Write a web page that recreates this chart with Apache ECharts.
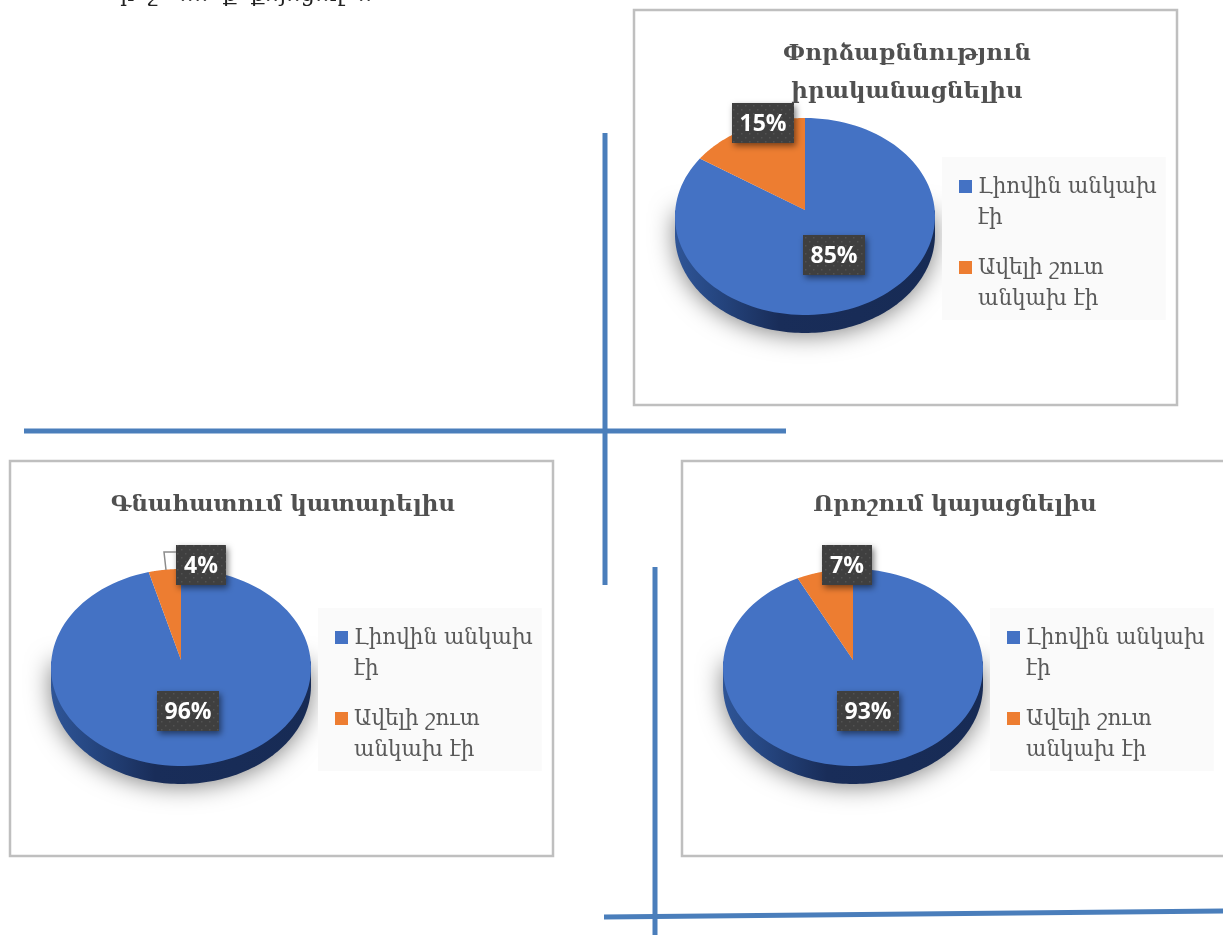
<!DOCTYPE html>
<html><head><meta charset="utf-8">
<style>html,body{margin:0;padding:0;background:#fff}#c{width:1223px;height:935px}</style>
<script src="https://cdn.jsdelivr.net/npm/echarts@6/dist/echarts.min.js"></script>
</head><body><div id="c"></div>
<script>
const chartTitles = ['Փորձաքննություն\nիրականացնելիս', 'Գնահատում կատարելիս', 'Որոշում կայացնելիս'];
const categories = ['Լիովին անկախ էի', 'Ավելի շուտ անկախ էի'];
const legendLabels = ['Լիովին անկախ\nէի', 'Ավելի շուտ\nանկախ էի'];
const fullyIndependent = [85, 96, 93];
const ratherIndependent = [15, 4, 7];

const pies = [
  {cx: 805, top: 118, apexY: 210, labels: [[834, 255], [763, 123]]},
  {cx: 181, top: 569, apexY: 660, labels: [[188, 711], [201, 565]]},
  {cx: 853, top: 569, apexY: 660, labels: [[868, 711], [847, 565]]}
];
const RX = 130, RY = 98.5, DEPTH = 18;
const FONT = '"DejaVu Serif", serif';
const LABEL_FONT = '"Open Sans", sans-serif';

function dots() {
  const c = document.createElement('canvas'); c.width = c.height = 8;
  const g = c.getContext('2d');
  g.fillStyle = '#3f3f3f'; g.fillRect(0, 0, 8, 8);
  g.fillStyle = '#525252'; g.fillRect(1, 1, 1.5, 1.5); g.fillRect(5, 5, 1.5, 1.5);
  return c;
}
const dotImage = dots();

function arcPoints(p, fromFrac, toFrac, dy) {
  const cy = p.top + RY, pts = [], n = 120;
  for (let i = 0; i <= n; i++) {
    const a = (fromFrac + (toFrac - fromFrac) * i / n) * 2 * Math.PI;
    pts.push([p.cx + RX * Math.sin(a), cy - RY * Math.cos(a) + dy]);
  }
  return pts;
}

function makeRender(seriesIndex) {
  return function (params, api) {
    const i = params.dataIndex, p = pies[i], value = api.value(0);
    const total = fullyIndependent[i] + ratherIndependent[i];
    const frac = value / total;
    const from = seriesIndex === 0 ? 0 : 1 - frac;
    const to = seriesIndex === 0 ? frac : 1;
    const children = [];
    if (seriesIndex === 0) {
      const cy = p.top + RY;
      children.push({
        type: 'polygon',
        shape: {points: [[p.cx + RX, cy - 6]].concat(arcPoints(p, 0.25, 0.75, DEPTH), [[p.cx - RX, cy - 6]])},
        style: {
          fill: new echarts.graphic.LinearGradient(1, 0, 0, 0, [
            {offset: 0, color: '#172b55'}, {offset: 0.6, color: '#192d59'},
            {offset: 0.85, color: '#264782'}, {offset: 1, color: '#2f5597'}
          ]),
          shadowBlur: 24, shadowColor: 'rgba(0,0,0,0.5)', shadowOffsetY: 2
        }
      });
    }
    children.push({
      type: 'polygon',
      shape: {points: arcPoints(p, from, to, 0).concat([[p.cx, p.apexY]])},
      style: {fill: api.visual('color')}
    });
    const [lx, ly] = p.labels[seriesIndex];
    const text = value + '%';
    const w = text.length > 2 ? 62 : 50, h = 40;
    children.push({
      type: 'rect', z2: 20,
      shape: {x: lx - w / 2, y: ly - h / 2, width: w, height: h},
      style: {fill: {image: dotImage, repeat: 'repeat'},
        shadowBlur: 6, shadowColor: 'rgba(0,0,0,0.5)', shadowOffsetX: 2, shadowOffsetY: 3}
    });
    children.push({
      type: 'text', z2: 21, x: lx, y: ly + 1,
      style: {text, fill: '#fff', font: 'bold 23px ' + LABEL_FONT, align: 'center', verticalAlign: 'middle'}
    });
    return {type: 'group', children};
  };
}

const ICON = 'path://M0 8H13V21H0Z M0 0L0 0 M13 62L13 62';
function legendAt(left, top) {
  return {
    left, top, orient: 'vertical', selectedMode: false,
    backgroundColor: '#fafafa', borderRadius: 0,
    padding: [15, 9, 5, 17], itemGap: 19, itemWidth: 13, itemHeight: 62,
    icon: ICON, data: categories,
    formatter: name => legendLabels[categories.indexOf(name)],
    textStyle: {fontFamily: FONT, fontSize: 21.5, lineHeight: 31, color: '#595959', padding: [0, 0, 0, 1]}
  };
}
const line = (x1, y1, x2, y2) => ({
  type: 'line', shape: {x1, y1, x2, y2}, style: {stroke: '#4a7ebb', lineWidth: 5}
});
const frame = (x, y, width, height) => ({
  type: 'rect', shape: {x, y, width, height}, style: {fill: '#fff', stroke: '#bfbfbf', lineWidth: 2.5}
});
const titleAt = (text, left, top) => ({
  text, left, top, textAlign: 'center',
  textStyle: {fontFamily: FONT, fontWeight: 'bold', fontSize: 23, lineHeight: 38, color: '#505050'}
});

const chart = echarts.init(document.getElementById('c'), null, {renderer: 'canvas'});
chart.setOption({
  animation: false,
  backgroundColor: '#fff',
  title: [titleAt(chartTitles[0], 902, 30), titleAt(chartTitles[1], 278, 481), titleAt(chartTitles[2], 950, 481)],
  legend: [legendAt(942, 157), legendAt(318, 608), legendAt(990, 608)],
  graphic: [
    frame(634, 10, 543, 395), frame(10, 461, 543, 395), frame(682, 461, 560, 395),
    line(605, 133, 605, 585), line(24, 431, 786, 431), line(655, 567, 655, 935), line(604, 917, 1223, 911),
    {type: 'polyline', z: 5, shape: {points: [[176, 552], [164, 552], [166, 570]]},
      style: {stroke: '#8c8c8c', lineWidth: 1.5, fill: null}},
    {type: 'text', x: 120, y: -16,
      style: {text: 'ր  շ   ․․․․  ք  ք․․յ․․ց․․ղ  ․․', fill: '#222', font: '22px ' + FONT}}
  ],
  series: [
    {type: 'custom', name: categories[0], coordinateSystem: 'none', z: 2,
     itemStyle: {color: '#4472c4'}, renderItem: makeRender(0),
     data: fullyIndependent.map(v => [v])},
    {type: 'custom', name: categories[1], coordinateSystem: 'none', z: 3,
     itemStyle: {color: '#ed7d31'}, renderItem: makeRender(1),
     data: ratherIndependent.map(v => [v])}
  ]
});
</script></body></html>
